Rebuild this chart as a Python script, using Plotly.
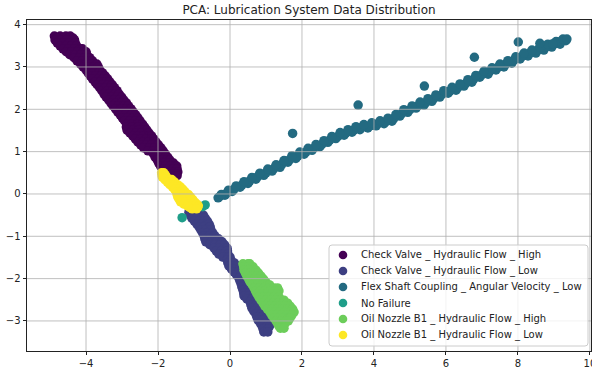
import plotly.graph_objects as go

# ---------------- data (PCA component 1 / component 2) -------------
categories = [
    "Check Valve _ Hydraulic Flow _ High",
    "Check Valve _ Hydraulic Flow _ Low",
    "Flex Shaft Coupling _ Angular Velocity _ Low",
    "No Failure",
    "Oil Nozzle B1 _ Hydraulic Flow _ High",
    "Oil Nozzle B1 _ Hydraulic Flow _ Low",
]
colors = ["#440154", "#3d3f82", "#236a81", "#1f9e89", "#6ccd5a", "#fde725"]

# rows of (pc2, [pc1 values])
check_valve_high_rows = [
    (3.73, [-4.88, -4.72, -4.56, -4.44]),
    (3.685, [-4.80, -4.64, -4.48, -4.36]),
    (3.64, [-4.86, -4.70, -4.54, -4.38, -4.32]),
    (3.57, [-4.80, -4.63, -4.47, -4.30]),
    (3.50, [-4.72, -4.56, -4.40, -4.26]),
    (3.43, [-4.64, -4.48, -4.32, -4.16, -4.10]),
    (3.36, [-4.55, -4.40, -4.24, -4.08, -4.00]),
    (3.29, [-4.45, -4.30, -4.14, -3.98]),
    (3.22, [-4.33, -4.18, -4.03, -3.90]),
    (3.145, [-4.25, -4.10, -3.95, -3.82]),
    (3.07, [-4.15, -4.00, -3.85, -3.70]),
    (3.00, [-4.08, -3.93, -3.78, -3.66]),
    (2.93, [-4.00, -3.85, -3.70, -3.62]),
    (2.86, [-3.94, -3.79, -3.64, -3.54]),
    (2.79, [-3.88, -3.73, -3.58, -3.47]),
    (2.72, [-3.82, -3.67, -3.52, -3.40]),
    (2.65, [-3.75, -3.60, -3.45, -3.34]),
    (2.58, [-3.69, -3.54, -3.39, -3.27]),
    (2.51, [-3.62, -3.47, -3.32, -3.21]),
    (2.44, [-3.56, -3.41, -3.26, -3.14]),
    (2.36, [-3.50, -3.35, -3.20, -3.08]),
    (2.29, [-3.44, -3.29, -3.14, -3.01]),
    (2.22, [-3.37, -3.22, -3.07, -2.95]),
    (2.15, [-3.31, -3.16, -3.01, -2.88]),
    (2.08, [-3.25, -3.10, -2.95, -2.82]),
    (2.01, [-3.18, -3.03, -2.88, -2.75]),
    (1.94, [-3.12, -2.97, -2.82, -2.69]),
    (1.87, [-3.05, -2.90, -2.75, -2.62]),
    (1.80, [-2.99, -2.84, -2.69, -2.56]),
    (1.73, [-2.93, -2.78, -2.63, -2.50]),
    (1.65, [-2.87, -2.72, -2.57, -2.43]),
    (1.58, [-2.88, -2.72, -2.56, -2.40, -2.37]),
    (1.51, [-2.86, -2.70, -2.54, -2.38, -2.31]),
    (1.44, [-2.78, -2.62, -2.46, -2.30, -2.25]),
    (1.37, [-2.70, -2.55, -2.40, -2.25, -2.18]),
    (1.30, [-2.63, -2.48, -2.33, -2.18, -2.12]),
    (1.23, [-2.56, -2.41, -2.26, -2.11, -2.06]),
    (1.16, [-2.48, -2.33, -2.18, -2.03, -1.99]),
    (1.09, [-2.40, -2.25, -2.10, -1.95, -1.92]),
    (1.02, [-2.28, -2.13, -1.98, -1.86]),
    (0.95, [-2.13, -2.00, -1.87, -1.80]),
    (0.87, [-2.08, -1.94, -1.80, -1.73]),
    (0.80, [-2.02, -1.89, -1.76, -1.67]),
    (0.73, [-1.98, -1.84, -1.70, -1.57]),
    (0.66, [-1.93, -1.79, -1.65, -1.52, -1.48]),
    (0.59, [-1.86, -1.72, -1.58, -1.47]),
    (0.52, [-1.78, -1.64, -1.52, -1.45]),
    (0.47, [-1.70, -1.58, -1.48]),
    (0.43, [-1.64, -1.52, -1.47]),
]

check_valve_low_rows = [
    (-0.43, [-1.14, -1.00, -0.86]),
    (-0.50, [-1.10, -0.96, -0.82, -0.74]),
    (-0.57, [-1.06, -0.92, -0.78, -0.69]),
    (-0.64, [-0.99, -0.85, -0.71, -0.63]),
    (-0.71, [-0.92, -0.78, -0.64, -0.58]),
    (-0.78, [-0.86, -0.72, -0.58, -0.55]),
    (-0.85, [-0.81, -0.67, -0.53]),
    (-0.92, [-0.76, -0.62, -0.48]),
    (-0.99, [-0.72, -0.58, -0.44, -0.42]),
    (-1.06, [-0.70, -0.56, -0.42, -0.32]),
    (-1.13, [-0.67, -0.53, -0.39, -0.25, -0.22]),
    (-1.20, [-0.56, -0.42, -0.28, -0.15]),
    (-1.28, [-0.44, -0.30, -0.16, -0.08]),
    (-1.35, [-0.38, -0.24, -0.10, -0.07]),
    (-1.42, [-0.31, -0.17, -0.06]),
    (-1.49, [-0.20, -0.06, 0.00]),
    (-1.56, [-0.08, 0.03]),
    (-1.63, [-0.06, 0.07, 0.12]),
    (-1.70, [-0.03, 0.10, 0.20]),
    (-1.77, [0.04, 0.17, 0.27]),
    (-1.84, [0.11, 0.24, 0.34]),
    (-1.91, [0.18, 0.31, 0.41]),
    (-1.99, [0.25, 0.38, 0.48]),
    (-2.06, [0.28, 0.41, 0.53]),
    (-2.13, [0.31, 0.44, 0.58]),
    (-2.20, [0.33, 0.47, 0.61]),
    (-2.27, [0.36, 0.50, 0.64]),
    (-2.34, [0.38, 0.52, 0.66, 0.70]),
    (-2.41, [0.39, 0.53, 0.67, 0.75]),
    (-2.48, [0.47, 0.61, 0.75, 0.80]),
    (-2.55, [0.56, 0.70, 0.84]),
    (-2.62, [0.58, 0.72, 0.86, 0.90]),
    (-2.70, [0.61, 0.75, 0.89, 0.95]),
    (-2.77, [0.66, 0.80, 0.94, 1.00]),
    (-2.84, [0.72, 0.86, 1.00, 1.06]),
    (-2.91, [0.75, 0.89, 1.03, 1.09]),
    (-2.98, [0.78, 0.92, 1.06, 1.12]),
    (-3.05, [0.84, 0.98, 1.11]),
    (-3.12, [0.89, 1.02, 1.10]),
    (-3.19, [0.92, 1.05]),
    (-3.26, [0.94, 1.05]),
]

flex_shaft_x = [
    # lower edge of the band
    -0.33, -0.14, 0.06, 0.28, 0.50, 0.72, 0.94, 1.17, 1.39, 1.61, 1.83, 2.06, 2.28, 2.50,
    2.72, 2.94, 3.17, 3.39, 3.61, 3.83, 4.06, 4.28, 4.50, 4.72, 4.94, 5.17, 5.39, 5.61,
    5.83, 6.06, 6.28, 6.50, 6.72, 6.94, 7.17, 7.39, 7.61, 7.83, 8.06, 8.28, 8.50, 8.72,
    8.94, 9.17, 9.33,
    # middle of the band
    -0.28, -0.09, 0.11, 0.33, 0.55, 0.77, 1.00, 1.22, 1.44, 1.66, 1.89, 2.11, 2.33, 2.55,
    2.77, 3.00, 3.22, 3.44, 3.66, 3.89, 4.11, 4.33, 4.55, 4.77, 5.00, 5.22, 5.44, 5.66,
    5.89, 6.11, 6.33, 6.55, 6.77, 7.00, 7.22, 7.44, 7.66, 7.89, 8.11, 8.33, 8.55, 8.77,
    9.00, 9.20,
    # upper edge of the band
    -0.24, -0.04, 0.17, 0.39, 0.61, 0.83, 1.05, 1.28, 1.50, 1.72, 1.94, 2.17, 2.39, 2.61,
    2.83, 3.06, 3.28, 3.50, 3.72, 3.94, 4.17, 4.39, 4.61, 4.83, 5.06, 5.28, 5.50, 5.72,
    5.94, 6.17, 6.39, 6.61, 6.83, 7.06, 7.28, 7.50, 7.72, 7.94, 8.17, 8.39, 8.61, 8.83,
    9.06, 9.25,
    8.61, 8.97, 9.36,
    # points off the band
    1.74, 3.56, 5.40, 6.79, 8.01,
]
flex_shaft_y = [
    -0.09, -0.03, 0.06, 0.16, 0.25, 0.35, 0.44, 0.54, 0.63, 0.75, 0.84, 0.94, 1.03, 1.12,
    1.22, 1.31, 1.39, 1.46, 1.52, 1.56, 1.61, 1.66, 1.72, 1.84, 1.93, 2.03, 2.10, 2.19,
    2.29, 2.38, 2.45, 2.55, 2.64, 2.76, 2.83, 2.93, 3.00, 3.09, 3.19, 3.26, 3.33, 3.40,
    3.47, 3.54, 3.62,
    -0.06, 0.02, 0.11, 0.21, 0.31, 0.41, 0.50, 0.60, 0.70, 0.81, 0.90, 0.99, 1.08, 1.17,
    1.27, 1.36, 1.44, 1.51, 1.57, 1.61, 1.66, 1.71, 1.78, 1.90, 1.99, 2.08, 2.16, 2.25,
    2.35, 2.43, 2.51, 2.61, 2.71, 2.82, 2.90, 2.99, 3.07, 3.16, 3.25, 3.33, 3.40, 3.47,
    3.54, 3.61,
    -0.01, 0.09, 0.19, 0.29, 0.39, 0.49, 0.59, 0.69, 0.79, 0.90, 0.99, 1.08, 1.17, 1.26,
    1.36, 1.45, 1.52, 1.59, 1.64, 1.68, 1.73, 1.79, 1.88, 1.99, 2.08, 2.17, 2.25, 2.34,
    2.44, 2.52, 2.60, 2.70, 2.80, 2.90, 2.98, 3.07, 3.15, 3.24, 3.33, 3.40, 3.47, 3.54,
    3.60, 3.66,
    3.56, 3.55, 3.66,
    1.43, 2.10, 2.55, 3.23, 3.59,
]

no_failure_x = [-0.69, -0.76, -1.33]
no_failure_y = [-0.26, -0.30, -0.56]

oil_nozzle_high_rows = [
    (-1.65, [0.36, 0.50, 0.55]),
    (-1.72, [0.38, 0.52, 0.64]),
    (-1.80, [0.39, 0.53, 0.67, 0.72]),
    (-1.87, [0.43, 0.57, 0.71, 0.79]),
    (-1.94, [0.47, 0.61, 0.75, 0.86]),
    (-2.01, [0.52, 0.66, 0.80, 0.93]),
    (-2.08, [0.56, 0.70, 0.84, 1.00]),
    (-2.15, [0.62, 0.76, 0.90, 1.04, 1.10]),
    (-2.22, [0.67, 0.81, 0.95, 1.09, 1.22, 1.32]),
    (-2.29, [0.71, 0.85, 0.99, 1.13, 1.27, 1.36]),
    (-2.36, [0.75, 0.89, 1.03, 1.17, 1.31]),
    (-2.43, [0.80, 0.94, 1.08, 1.22, 1.36]),
    (-2.51, [0.86, 1.00, 1.14, 1.28, 1.42, 1.50]),
    (-2.58, [0.92, 1.06, 1.20, 1.34, 1.48, 1.60]),
    (-2.65, [0.97, 1.11, 1.25, 1.39, 1.53, 1.67]),
    (-2.72, [1.04, 1.18, 1.32, 1.46, 1.60, 1.74]),
    (-2.79, [1.11, 1.25, 1.39, 1.53, 1.67, 1.78]),
    (-2.86, [1.16, 1.30, 1.44, 1.58, 1.72]),
    (-2.93, [1.22, 1.36, 1.50, 1.64, 1.67]),
    (-3.00, [1.28, 1.42, 1.56, 1.62]),
    (-3.07, [1.33, 1.45, 1.52]),
    (-3.12, [1.36, 1.48]),
    (-3.17, [1.40, 1.50]),
]

oil_nozzle_low_rows = [
    (0.50, [-1.90, -1.84]),
    (0.45, [-1.89, -1.80]),
    (0.40, [-1.88, -1.76]),
    (0.34, [-1.81, -1.69, -1.62]),
    (0.28, [-1.74, -1.62, -1.54]),
    (0.22, [-1.67, -1.55, -1.46]),
    (0.17, [-1.60, -1.48, -1.38]),
    (0.11, [-1.54, -1.42, -1.31]),
    (0.05, [-1.48, -1.36, -1.25]),
    (-0.01, [-1.47, -1.34, -1.21, -1.16]),
    (-0.07, [-1.45, -1.32, -1.19, -1.10]),
    (-0.13, [-1.41, -1.28, -1.15, -1.04]),
    (-0.19, [-1.37, -1.24, -1.11, -0.98]),
    (-0.24, [-1.28, -1.15, -1.02, -0.92]),
    (-0.28, [-1.18, -1.05, -0.88]),
    (-0.32, [-1.12, -0.99, -0.90]),
    (-0.35, [-1.05, -0.93]),
]

x_ticks = [-4, -2, 0, 2, 4, 6, 8, 10]
y_ticks = [-3, -2, -1, 0, 1, 2, 3, 4]


def rows_to_xy(rows):
    xs, ys = [], []
    for yv, xlist in rows:
        for xv in xlist:
            xs.append(xv)
            ys.append(yv)
    return xs, ys


series = [
    rows_to_xy(check_valve_high_rows),
    rows_to_xy(check_valve_low_rows),
    (flex_shaft_x, flex_shaft_y),
    (no_failure_x, no_failure_y),
    rows_to_xy(oil_nozzle_high_rows),
    rows_to_xy(oil_nozzle_low_rows),
]

# ---------------- layout geometry (pixels) ----------------
W, H = 592, 372
ML, MR, MT, MB = 27, 1, 20, 21
PW, PH = W - ML - MR, H - MT - MB


def px_x(px):
    return (px - ML) / PW


def px_y(py):
    return (H - MB - py) / PH


FONT = "DejaVu Sans"
TXT = "#222222"
fig = go.Figure()
for name, color, (xs, ys) in zip(categories, colors, series):
    fig.add_trace(go.Scatter(
        x=xs, y=ys, mode="markers", name=name, showlegend=False,
        marker=dict(size=9.5, color=color, line=dict(width=0)),
    ))

shapes = []
# grid lines drawn above the points (as in the original)
for t in x_ticks:
    shapes.append(dict(type="line", xref="x", yref="paper", x0=t, x1=t, y0=0, y1=1,
                       line=dict(color="#b0b0b0", width=0.8), layer="above"))
for t in y_ticks:
    shapes.append(dict(type="line", xref="paper", yref="y", x0=0, x1=1, y0=t, y1=t,
                       line=dict(color="#b0b0b0", width=0.8), layer="above"))

# legend box (rounded), lower right
L0, L1, T0, B0 = 329, 588, 245, 346
r = 3
xl, xr = px_x(L0), px_x(L1)
yt, yb = px_y(T0), px_y(B0)
rx, ry = r / PW, r / PH
path = (f"M {xl + rx},{yb} L {xr - rx},{yb} Q {xr},{yb} {xr},{yb + ry} "
        f"L {xr},{yt - ry} Q {xr},{yt} {xr - rx},{yt} L {xl + rx},{yt} "
        f"Q {xl},{yt} {xl},{yt - ry} L {xl},{yb + ry} Q {xl},{yb} {xl + rx},{yb} Z")
shapes.append(dict(type="path", xref="paper", yref="paper", path=path,
                   fillcolor="rgba(255,255,255,0.8)", line=dict(color="#cccccc", width=1),
                   layer="above"))

annotations = []
for i, (name, color) in enumerate(zip(categories, colors)):
    cy = 255 + 16 * i
    shapes.append(dict(type="circle", xref="paper", yref="paper",
                       xsizemode="pixel", ysizemode="pixel",
                       xanchor=px_x(343), yanchor=px_y(cy),
                       x0=-4.3, x1=4.3, y0=-4.3, y1=4.3,
                       fillcolor=color, line=dict(width=0), layer="above"))
    annotations.append(dict(text=name, xref="paper", yref="paper",
                            x=px_x(359.5), y=px_y(cy), xanchor="left", yanchor="middle",
                            showarrow=False, font=dict(family=FONT, size=10, color=TXT)))

fig.update_layout(
    width=W, height=H,
    margin=dict(l=ML, r=MR, t=MT, b=MB, autoexpand=False),
    paper_bgcolor="white", plot_bgcolor="white",
    font=dict(family=FONT, size=10, color=TXT),
    title=dict(text="PCA: Lubrication System Data Distribution",
               x=0.5, xref="paper", xanchor="center",
               y=1 - 9.5 / H, yref="container", yanchor="middle",
               font=dict(family=FONT, size=12, color=TXT)),
    shapes=shapes,
    annotations=annotations,
    showlegend=False,
)
fig.update_xaxes(range=[-5.64, 10.03], tickvals=x_ticks, showgrid=False, zeroline=False,
                 showline=True, linecolor=TXT, linewidth=0.8, mirror=True,
                 ticks="outside", ticklen=3.5, tickwidth=0.8, tickcolor=TXT,
                 ticklabeloverflow="allow", automargin=False)
fig.update_yaxes(range=[-3.71, 4.11], tickvals=y_ticks, showgrid=False, zeroline=False,
                 showline=True, linecolor=TXT, linewidth=0.8, mirror=True,
                 ticks="outside", ticklen=3.5, tickwidth=0.8, tickcolor=TXT,
                 automargin=False)

fig.write_html("out.html",
               config={"displayModeBar": False},
               post_script="document.body.style.margin='0';"
                           "document.body.style.overflow='hidden';")
